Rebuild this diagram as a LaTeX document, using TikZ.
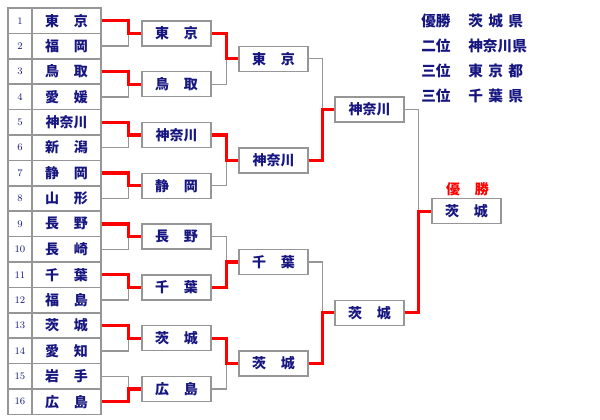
\documentclass[tikz,border=0pt]{standalone}
\usepackage{fontspec}
\newfontfamily\jpfont{Noto Sans CJK JP}
\definecolor{navytext}{RGB}{22,22,128}
\definecolor{bordergray}{RGB}{150,150,150}
\definecolor{winred}{RGB}{255,0,0}
\newcommand\twoch[2]{#1\hspace{11pt}#2}
\newcommand\threech[3]{#1\hspace{4pt}#2\hspace{4pt}#3}
\begin{document}
\begin{tikzpicture}[x=0.75pt,y=-0.75pt,
  jptext/.style={font=\jpfont\bfseries\fontsize{10.5}{12}\selectfont, text=navytext},
  numcell/.style={draw=bordergray, line width=1.1pt, minimum width=18pt, minimum height=19.05pt, inner sep=0pt,
     font=\fontsize{7.5}{9}\selectfont, text=navytext},
  namecell/.style={jptext, draw=bordergray, line width=1.1pt, minimum width=51.75pt, minimum height=19.05pt, inner sep=0pt},
  roundbox/.style={jptext, draw=bordergray, fill=white, line width=1.1pt, minimum width=51.75pt, minimum height=18.75pt, inner sep=0pt},
  lose/.style={draw=bordergray, line width=1pt},
  win/.style={draw=winred, line width=2.5pt},
  legend/.style={font=\jpfont\bfseries\fontsize{11}{13}\selectfont, text=navytext, anchor=west, inner sep=0pt}
]
\useasboundingbox (0,0) rectangle (600,420);

% first-round table
\foreach \i/\nm in {1/{\twoch{東}{京}},2/{\twoch{福}{岡}},3/{\twoch{鳥}{取}},4/{\twoch{愛}{媛}},
  5/{神奈川},6/{\twoch{新}{潟}},7/{\twoch{静}{岡}},8/{\twoch{山}{形}},
  9/{\twoch{長}{野}},10/{\twoch{長}{崎}},11/{\twoch{千}{葉}},12/{\twoch{福}{島}},
  13/{\twoch{茨}{城}},14/{\twoch{愛}{知}},15/{\twoch{岩}{手}},16/{\twoch{広}{島}}}{
  \pgfmathsetmacro\yy{8+25.4*(\i-0.5)}
  \node[numcell] (c\i) at (20,\yy) {\i};
  \node[namecell] (n\i) at (66.5,\yy) {\nm};
}

% second round
\foreach \k/\nm in {1/{\twoch{東}{京}},2/{\twoch{鳥}{取}},3/{神奈川},4/{\twoch{静}{岡}},
  5/{\twoch{長}{野}},6/{\twoch{千}{葉}},7/{\twoch{茨}{城}},8/{\twoch{広}{島}}}{
  \pgfmathsetmacro\yy{8+25.4*(2*\k-1)}
  \node[roundbox] (r2-\k) at (176.5,\yy) {\nm};
}
% third round
\foreach \k/\nm in {1/{\twoch{東}{京}},2/{神奈川},3/{\twoch{千}{葉}},4/{\twoch{茨}{城}}}{
  \pgfmathsetmacro\yy{8+25.4*(4*\k-2)}
  \node[roundbox] (r3-\k) at (273.5,\yy) {\nm};
}
% semifinal winners
\foreach \k/\nm in {1/{神奈川},2/{\twoch{茨}{城}}}{
  \pgfmathsetmacro\yy{8+25.4*(8*\k-4)}
  \node[roundbox] (r4-\k) at (369.5,\yy) {\nm};
}
% champion
\node[roundbox] (champ) at (466.5,211.2) {\twoch{茨}{城}};
\node[font=\jpfont\bfseries\fontsize{10.5}{12}\selectfont, text=winred, inner sep=0pt] (champlabel) at (467.5,189) {\twoch{優}{勝}};

% connectors round 1
\foreach \w/\l/\k in {1/2/1,3/4/2,5/6/3,7/8/4,9/10/5,11/12/6,13/14/7,16/15/8}{
  \draw[lose] (n\l.east) -- ++(27,0) |- (r2-\k.west);
  \draw[win] (n\w.east) -- ++(27,0) |- (r2-\k.west);
}
% round 2
\foreach \w/\l/\k in {1/2/1,3/4/2,6/5/3,7/8/4}{
  \draw[lose] (r2-\l.east) -- ++(15,0) |- (r3-\k.west);
  \draw[win] (r2-\w.east) -- ++(15,0) |- (r3-\k.west);
}
% round 3
\foreach \w/\l/\k in {2/1/1,4/3/2}{
  \draw[lose] (r3-\l.east) -- ++(14,0) |- (r4-\k.west);
  \draw[win] (r3-\w.east) -- ++(14,0) |- (r4-\k.west);
}
% final
\draw[lose] (r4-1.east) -- ++(14,0) |- (champ.west);
\draw[win] (r4-2.east) -- ++(14,0) |- (champ.west);

% legend
\node[legend] (l1a) at (421,20.7) {優勝};
\node[legend] (l1b) at (468,20.7) {\threech{茨}{城}{県}};
\node[legend] (l2a) at (421,45.5) {二位};
\node[legend] (l2b) at (468,45.5) {神奈川県};
\node[legend] (l3a) at (421,71) {三位};
\node[legend] (l3b) at (468,71) {\threech{東}{京}{都}};
\node[legend] (l4a) at (421,96) {三位};
\node[legend] (l4b) at (468,96) {\threech{千}{葉}{県}};
\end{tikzpicture}
\end{document}
